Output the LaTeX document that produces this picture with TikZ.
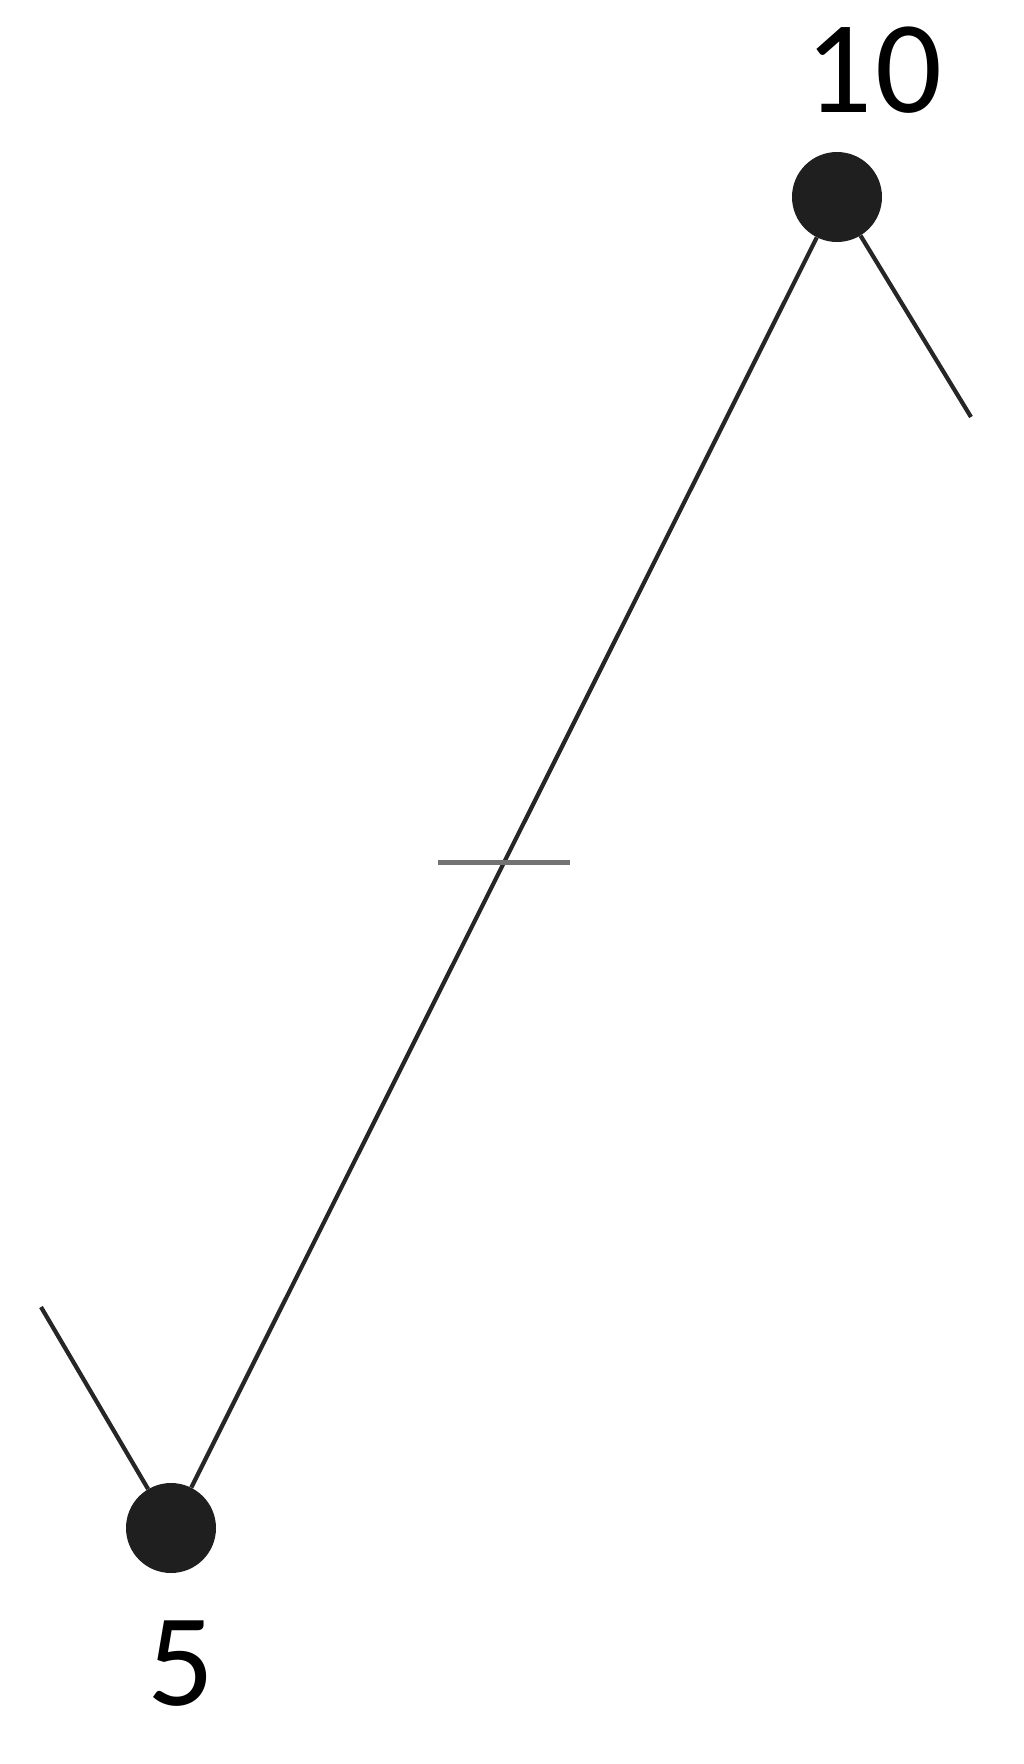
\documentclass[tikz,border=0pt]{standalone}
\usepackage{fontspec}
\setmainfont{Carlito}
\usetikzlibrary{calc}
\begin{document}
\begin{tikzpicture}[x=1pt,y=-1pt,
  dot/.style={circle,fill=black!88,inner sep=0pt,minimum size=90pt},
  edge/.style={draw=black!85,line width=4.2pt},
  tickmark/.style={draw=black!55,line width=4.5pt},
  lbl/.style={inner sep=0pt,anchor=base,font=\fontsize{132}{140}\selectfont}]
\useasboundingbox (0,0) rectangle (1024,1764);
\node[dot] (t) at (837,197) {};
\node[dot] (b) at (171,1528) {};
\coordinate (tr) at (971,417);
\coordinate (bl) at (41,1307);
\draw[edge] (b) -- (t);
\draw[edge] (t) -- (tr);
\draw[edge] (b) -- (bl);
\coordinate (m) at ($(b)!0.5!(t)$);
\draw[tickmark] ([xshift=-66pt]m) -- ([xshift=66pt]m);
\node[lbl] (l10) at (874,112) {1\kern4pt 0};
\node[lbl] (l5) at (181,1705) {5};
\end{tikzpicture}
\end{document}
